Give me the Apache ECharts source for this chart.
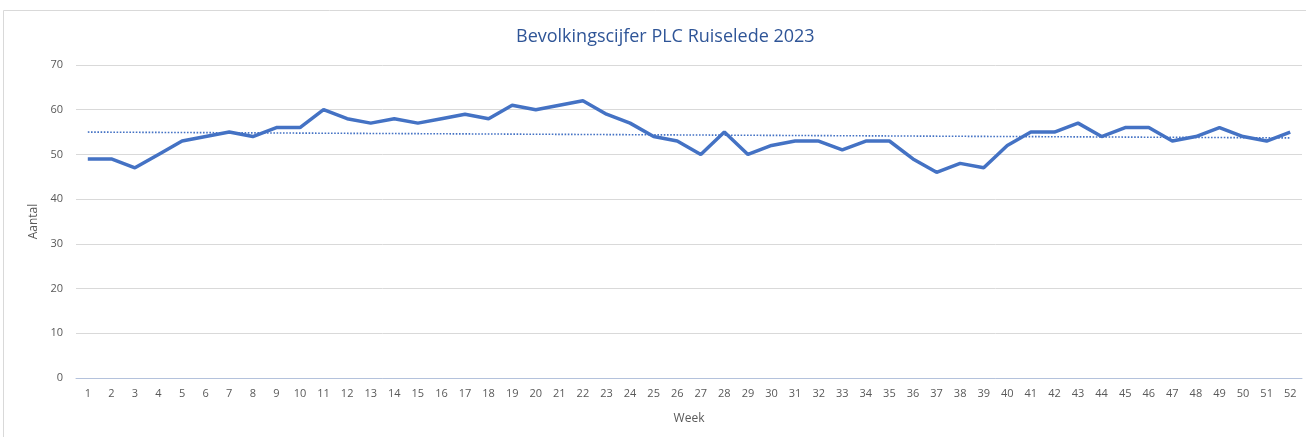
<!DOCTYPE html>
<html>
<head>
<meta charset="utf-8">
<script src="https://cdn.jsdelivr.net/npm/echarts@6/dist/echarts.min.js"></script>
<style>
html,body{margin:0;padding:0;background:#fff;}
#c{width:1306px;height:437px;}
</style>
</head>
<body>
<div id="c"></div>
<script>
const weeks = ['1','2','3','4','5','6','7','8','9','10','11','12','13','14','15','16','17','18','19','20','21','22','23','24','25','26','27','28','29','30','31','32','33','34','35','36','37','38','39','40','41','42','43','44','45','46','47','48','49','50','51','52'];
const aantal = [49,49,47,50,53,54,55,54,56,56,60,58,57,58,57,58,59,58,61,60,61,62,59,57,54,53,50,55,50,52,53,53,51,53,53,49,46,48,47,52,55,55,57,54,56,56,53,54,56,54,53,55];
const trendStart = 55.0;
const trendEnd = 53.7;
const yTicks = [0,10,20,30,40,50,60,70];

const trend = weeks.map((w,i)=> i===0 ? trendStart : (i===weeks.length-1 ? trendEnd : null));

const chart = echarts.init(document.getElementById('c'), null, {renderer:'canvas'});
chart.setOption({
  animation:false,
  backgroundColor:'#fff',
  title:{
    text:'Bevolkingscijfer PLC Ruiselede 2023',
    left:511, top:23,
    textStyle:{color:'#2F5597', fontSize:18, fontWeight:'normal', fontFamily:'Liberation Sans Narrow, Open Sans, sans-serif'}
  },
  graphic:[{type:'rect', shape:{x:3.5,y:10.5,width:1310,height:440}, style:{fill:'none', stroke:'#D9D9D9', lineWidth:1}, silent:true}],
  grid:{left:76, right:4, top:65, bottom:59},
  xAxis:{
    type:'category', data:weeks, boundaryGap:true,
    name:'Week', nameLocation:'middle', nameGap:35,
    nameTextStyle:{color:'#595959', fontSize:12, fontFamily:'Open Sans, sans-serif'},
    axisLine:{lineStyle:{color:'#B4C2DC', width:1}},
    axisTick:{show:false},
    axisLabel:{color:'#595959', fontSize:11, margin:10, interval:0, fontFamily:'Open Sans, sans-serif'}
  },
  yAxis:{
    type:'value', min:0, max:70, interval:10,
    name:'Aantal', nameLocation:'middle', nameGap:33, nameRotate:90,
    nameTextStyle:{color:'#595959', fontSize:12, fontFamily:'Open Sans, sans-serif'},
    axisLine:{show:false}, axisTick:{show:false},
    axisLabel:{color:'#595959', fontSize:11, margin:13, fontFamily:'Open Sans, sans-serif',
      formatter:(v)=> yTicks.includes(v) ? String(v) : ''},
    splitLine:{lineStyle:{color:'#D9D9D9', width:1}}
  },
  series:[
    {type:'line', data:aantal, symbol:'none', lineStyle:{color:'#4472C4', width:3.5}, z:3},
    {type:'line', data:trend, connectNulls:true, symbol:'none', lineStyle:{color:'#4472C4', width:1.6, type:'dotted'}, z:2}
  ]
});
</script>
</body>
</html>
